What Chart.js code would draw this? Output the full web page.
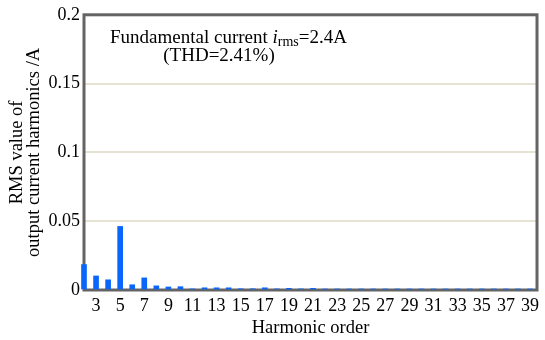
<!DOCTYPE html>
<html>
<head>
<meta charset="utf-8">
<script src="https://cdn.jsdelivr.net/npm/chart.js@4"></script>
<style>
  html, body { margin: 0; padding: 0; background: #fff; }
  #wrap { width: 545px; height: 340px; }
</style>
</head>
<body>
<div id="wrap"><canvas id="harmChart" width="545" height="340"></canvas></div>
<script>
// harmonic orders and RMS values (A)
const orders = [2, 3, 4, 5, 6, 7, 8, 9, 10, 11, 12, 13, 14, 15, 16, 17, 18, 19, 20,
  21, 22, 23, 24, 25, 26, 27, 28, 29, 30, 31, 32, 33, 34, 35, 36, 37, 38, 39];
const rmsValues = [0.0185, 0.0102, 0.0074, 0.0462, 0.0038, 0.0088, 0.0030, 0.0022, 0.0024, 0.0008,
  0.0016, 0.0016, 0.0016, 0.0009, 0.0009, 0.0016, 0.0008, 0.0012, 0.0008, 0.0012,
  0.0006, 0.0006, 0.0006, 0.0006, 0.0006, 0.0006, 0.0006, 0.0006, 0.0006, 0.0006,
  0.0006, 0.0006, 0.0006, 0.0006, 0.0006, 0.0006, 0.0006, 0.0006];
const xTickLabels = [3, 5, 7, 9, 11, 13, 15, 17, 19, 21, 23, 25, 27, 29, 31, 33, 35, 37, 39];
const yTickLabels = [0, 0.05, 0.1, 0.15, 0.2];

const serif = 'Liberation Serif';

// box around the plot + the annotation text
const framePlugin = {
    id: 'frame',
    beforeDatasetsDraw(chart) {
        const { ctx, chartArea: a } = chart;
        ctx.save();
        ctx.strokeStyle = '#646464';
        ctx.lineWidth = 3;
        ctx.strokeRect(a.left, a.top, a.right - a.left, a.bottom - a.top);
        ctx.restore();
    },
    afterDraw(chart) {
        const ctx = chart.ctx;
        ctx.save();
        ctx.fillStyle = '#000';
        ctx.textBaseline = 'alphabetic';
        let x = 110, y = 43;
        ctx.font = '19px ' + serif;
        ctx.fillText('Fundamental current ', x, y);
        x += ctx.measureText('Fundamental current ').width;
        ctx.font = 'italic 19px ' + serif;
        ctx.fillText('i', x, y);
        x += ctx.measureText('i').width;
        ctx.font = '14px ' + serif;
        ctx.fillText('rms', x, y + 3);
        x += ctx.measureText('rms').width;
        ctx.font = '19px ' + serif;
        ctx.fillText('=2.4A', x, y);
        ctx.textAlign = 'center';
        ctx.fillText('(THD=2.41%)', 219, 61);
        ctx.restore();
    }
};

const ctx = document.getElementById('harmChart').getContext('2d');

const harmChart = new Chart(ctx, {
    type: 'bar',
    data: {
        datasets: [{
            data: orders.map((o, i) => ({ x: o, y: rmsValues[i] })),
            backgroundColor: '#0a66fa',
            borderWidth: 0,
            barThickness: 5,
            clip: false
        }]
    },
    options: {
        responsive: false,
        animation: false,
        layout: { padding: { top: 13, right: 8, left: 0, bottom: 0 } },
        plugins: {
            legend: { display: false },
            tooltip: { enabled: false }
        },
        scales: {
            x: {
                type: 'linear',
                min: 2,
                max: 39.58,
                offset: false,
                afterBuildTicks(scale) {
                    scale.ticks = xTickLabels.map(v => ({ value: v }));
                },
                afterFit(scale) { scale.height = 50; },
                grid: { display: false, drawTicks: false },
                border: { display: false },
                ticks: {
                    color: '#000',
                    padding: 5,
                    maxRotation: 0,
                    autoSkip: false,
                    font: { family: serif, size: 18 },
                    callback: v => String(v)
                },
                title: {
                    display: true,
                    text: 'Harmonic order',
                    color: '#000',
                    padding: { top: 0, bottom: 1 },
                    font: { family: serif, size: 18.5 }
                }
            },
            y: {
                min: 0,
                max: 0.2,
                afterBuildTicks(scale) {
                    scale.ticks = yTickLabels.map(v => ({ value: v }));
                },
                afterFit(scale) { scale.width = 84; },
                grid: {
                    color: ctx => (ctx.tick.value > 0 && ctx.tick.value < 0.2) ? '#e6e3d4' : 'rgba(0,0,0,0)',
                    lineWidth: 2,
                    drawTicks: false
                },
                border: { display: false },
                ticks: {
                    color: '#000',
                    padding: 4,
                    font: { family: serif, size: 18 },
                    callback: v => String(v)
                },
                title: {
                    display: true,
                    text: ['RMS value of', 'output current harmonics /A'],
                    color: '#000',
                    padding: { top: 9, bottom: 0 },
                    font: { family: serif, size: 18.5, lineHeight: 0.9 }
                }
            }
        }
    },
    plugins: [framePlugin]
});
</script>
</body>
</html>
